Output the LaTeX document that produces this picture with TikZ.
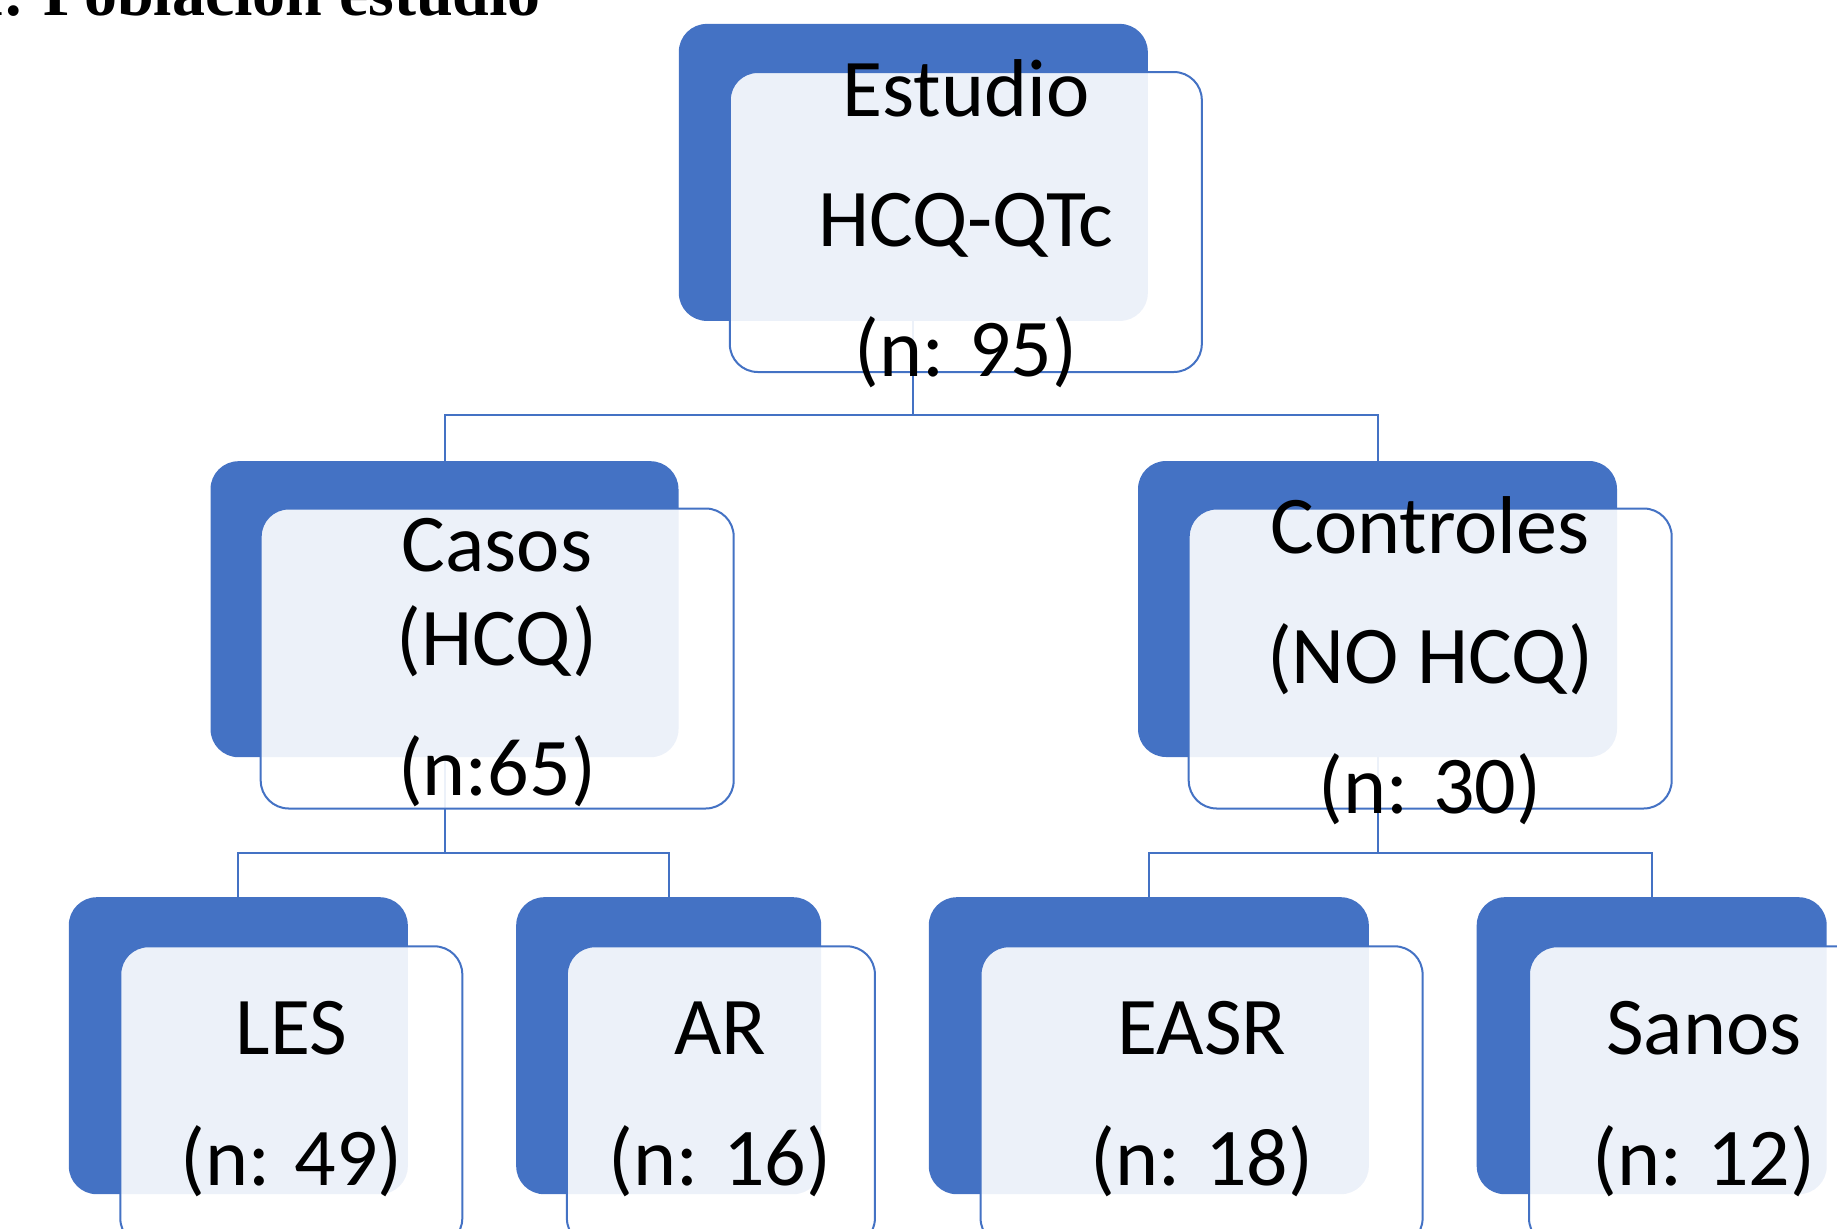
\documentclass[tikz,border=0pt]{standalone}
\usepackage{fontspec}
\setmainfont{Carlito}
\newfontfamily\titlefont{Liberation Serif}
\definecolor{sablue}{HTML}{4472C4}
\begin{document}
\begin{tikzpicture}[x=1pt,y=-1pt,
  bluebox/.style={draw=none, fill=sablue, rounded corners=28pt, inner sep=0pt, outer sep=0pt},
  frontbox/.style={draw=sablue, line width=2pt, fill=white, fill opacity=0.9, rounded corners=28pt, inner sep=0pt, outer sep=0pt},
  conn/.style={draw=sablue, line width=2pt},
  lbl/.style={anchor=base, inner sep=0pt, font=\fontsize{82}{98}\selectfont, text=black}]
\useasboundingbox (0,0) rectangle (1837,1229);
\clip (0,0) rectangle (1837,1229);

% title
\node[anchor=base east, inner sep=0pt, font=\titlefont\bfseries\fontsize{66}{80}\selectfont] (title) at (541,15) {1. Población estudio};

% blue back boxes
\node[bluebox, minimum width=469pt, minimum height=297pt] (topB) at (913.3,172.4) {};
\node[bluebox, minimum width=468pt, minimum height=296pt] (casosB) at (444.5,609.2) {};
\node[bluebox, minimum width=479pt, minimum height=296pt] (contB) at (1377.5,609) {};
\node[bluebox, minimum width=339pt, minimum height=297pt] (lesB) at (238.3,1045.7) {};
\node[bluebox, minimum width=305pt, minimum height=297pt] (arB) at (668.7,1045.7) {};
\node[bluebox, minimum width=440pt, minimum height=297pt] (easrB) at (1148.8,1045.7) {};
\node[bluebox, minimum width=350pt, minimum height=297pt] (sanosB) at (1651.7,1045.7) {};

% connectors
\coordinate (bus1) at (0,415);
\coordinate (bus2) at (0,852.5);
\draw[conn] (topB.south) -- (topB.south |- bus1);
\draw[conn] (casosB.north) |- (contB.north |- bus1) -- (contB.north);
\draw[conn] (casosB.south) -- (casosB.south |- bus2);
\draw[conn] (lesB.north) |- (arB.north |- bus2) -- (arB.north);
\draw[conn] (contB.south) -- (contB.south |- bus2);
\draw[conn] (easrB.north) |- (sanosB.north |- bus2) -- (sanosB.north);

% front boxes
\node[frontbox, minimum width=472pt, minimum height=300pt] (topF) at (965.8,222) {};
\node[frontbox, minimum width=473pt, minimum height=300pt] (casosF) at (497.2,658.5) {};
\node[frontbox, minimum width=483pt, minimum height=300pt] (contF) at (1430.2,658.5) {};
\node[frontbox, minimum width=342pt, minimum height=300pt] (lesF) at (291.3,1096.3) {};
\node[frontbox, minimum width=308pt, minimum height=300pt] (arF) at (720.9,1096.3) {};
\node[frontbox, minimum width=442pt, minimum height=300pt] (easrF) at (1201.6,1096.3) {};
\node[frontbox, minimum width=353pt, minimum height=300pt] (sanosF) at (1705.5,1096.3) {};

% labels
\node[lbl] (t1a) at (966,116.7) {Estudio};
\node[lbl] (t1b) at (966,246.7) {HCQ-QTc};
\node[lbl] (t1c) at (966,376.7) {(n: 95)};
\node[lbl] (t2a) at (497,571) {Casos};
\node[lbl] (t2b) at (497,665) {(HCQ)};
\node[lbl] (t2c) at (497,795) {(n:65)};
\node[lbl] (t3a) at (1430,553.3) {Controles};
\node[lbl] (t3b) at (1430,683.3) {(NO HCQ)};
\node[lbl] (t3c) at (1430,813.3) {(n: 30)};
\node[lbl] (t4a) at (291.5,1054) {LES};
\node[lbl] (t4b) at (291.5,1185) {(n: 49)};
\node[lbl] (t5a) at (720,1054) {AR};
\node[lbl] (t5b) at (720,1185) {(n: 16)};
\node[lbl] (t6a) at (1202,1054) {EASR};
\node[lbl] (t6b) at (1202,1185) {(n: 18)};
\node[lbl] (t7a) at (1704,1054) {Sanos};
\node[lbl] (t7b) at (1704,1185) {(n: 12)};
\end{tikzpicture}
\end{document}
